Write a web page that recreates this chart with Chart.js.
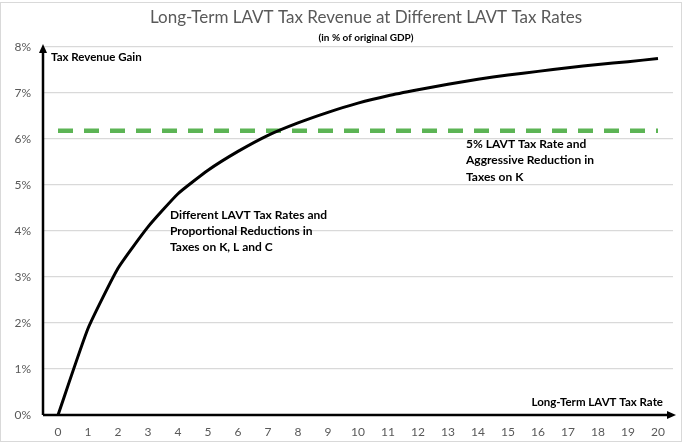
<!DOCTYPE html>
<html>
<head>
<meta charset="utf-8">
<script src="https://cdn.jsdelivr.net/npm/chart.js@4"></script>
<style>
  html, body { margin: 0; padding: 0; background: #fff; }
  #wrap { width: 684px; height: 443px; }
</style>
</head>
<body>
<div id="wrap"><canvas id="revChart" width="684" height="443"></canvas></div>
<script>
// --- DATA ---
const taxRates = ['0','1','2','3','4','5','6','7','8','9','10','11','12','13','14','15','16','17','18','19','20'];
const revenueGain = [0, 1.88, 3.19, 4.09, 4.81, 5.32, 5.73, 6.08, 6.35, 6.58, 6.78, 6.94, 7.07, 7.19, 7.30, 7.39, 7.47, 7.55, 7.62, 7.68, 7.75];
const aggressiveK = 6.18;
const yTicks = [0, 1, 2, 3, 4, 5, 6, 7, 8];

const FONT = 'Lato, "Open Sans", sans-serif';

// --- TEXT, AXIS ARROWS, FRAME ---
const decorPlugin = {
    id: 'decor',
    afterDraw(chart) {
        const { ctx, chartArea: a } = chart;
        ctx.save();

        // outer frame
        ctx.strokeStyle = '#d9d9d9';
        ctx.lineWidth = 1;
        ctx.strokeRect(0.5, 2.5, 681, 439);

        // titles
        ctx.textAlign = 'center';
        ctx.textBaseline = 'middle';
        ctx.fillStyle = '#595959';
        ctx.font = `17px ${FONT}`;
        ctx.fillText('Long-Term LAVT Tax Revenue at Different LAVT Tax Rates', 366, 18);
        ctx.fillStyle = '#000';
        ctx.font = `bold 10px ${FONT}`;
        ctx.fillText('(in % of original GDP)', 366, 38);

        // axes with arrows
        ctx.strokeStyle = '#000';
        ctx.fillStyle = '#000';
        ctx.lineWidth = 2.5;
        ctx.beginPath();
        ctx.moveTo(a.left, a.bottom);
        ctx.lineTo(a.left, a.top + 2);
        ctx.moveTo(a.left, a.bottom);
        ctx.lineTo(a.right - 1, a.bottom);
        ctx.stroke();
        ctx.beginPath();
        ctx.moveTo(a.left, a.top - 3);
        ctx.lineTo(a.left - 4, a.top + 6);
        ctx.lineTo(a.left + 4, a.top + 6);
        ctx.closePath();
        ctx.fill();
        ctx.beginPath();
        ctx.moveTo(a.right + 3, a.bottom);
        ctx.lineTo(a.right - 6, a.bottom - 4);
        ctx.lineTo(a.right - 6, a.bottom + 4);
        ctx.closePath();
        ctx.fill();

        // axis names
        ctx.font = `bold 11.5px ${FONT}`;
        ctx.textAlign = 'left';
        ctx.fillText('Tax Revenue Gain', a.left + 8, 57);
        ctx.textAlign = 'right';
        ctx.fillText('Long-Term LAVT Tax Rate', a.right - 10, 402);

        // curve notes
        ctx.textAlign = 'left';
        ctx.font = `bold 12px ${FONT}`;
        ['Different LAVT Tax Rates and', 'Proportional Reductions in', 'Taxes on K, L and C']
            .forEach((t, i) => ctx.fillText(t, 170, 215 + i * 16));
        ['5% LAVT Tax Rate and', 'Aggressive Reduction in', 'Taxes on K']
            .forEach((t, i) => ctx.fillText(t, 466, 144 + i * 16.5));

        ctx.restore();
    }
};

// --- CHART ---
new Chart(document.getElementById('revChart'), {
    type: 'line',
    data: {
        labels: taxRates,
        datasets: [
            {
                label: 'Different LAVT Tax Rates',
                data: revenueGain,
                borderColor: '#000',
                borderWidth: 3,
                pointRadius: 0,
                tension: 0.15,
                borderJoinStyle: 'round',
                order: 1
            },
            {
                label: '5% LAVT Tax Rate',
                data: taxRates.map(() => aggressiveK),
                borderColor: '#5cb455',
                borderWidth: 4.5,
                borderDash: [15, 11],
                pointRadius: 0,
                order: 2
            }
        ]
    },
    options: {
        responsive: false,
        animation: false,
        layout: { padding: { top: 47, right: 11, left: 0, bottom: 0 } },
        plugins: { legend: { display: false }, tooltip: { enabled: false } },
        scales: {
            x: {
                offset: true,
                grid: { display: false, drawTicks: false },
                border: { display: false },
                ticks: { color: '#595959', font: { family: FONT, size: 12 }, padding: 10, maxRotation: 0, autoSkip: false },
                afterFit(s) { s.height = 28; }
            },
            y: {
                min: 0,
                max: 8,
                afterBuildTicks(s) { s.ticks = yTicks.map(v => ({ value: v })); },
                grid: { color: '#d9d9d9', lineWidth: 1.3, drawTicks: false },
                border: { display: false },
                ticks: { color: '#595959', font: { family: FONT, size: 12 }, padding: 12, callback: v => v + '%' },
                afterFit(s) { s.width = 43; }
            }
        }
    },
    plugins: [decorPlugin]
});
</script>
</body>
</html>
